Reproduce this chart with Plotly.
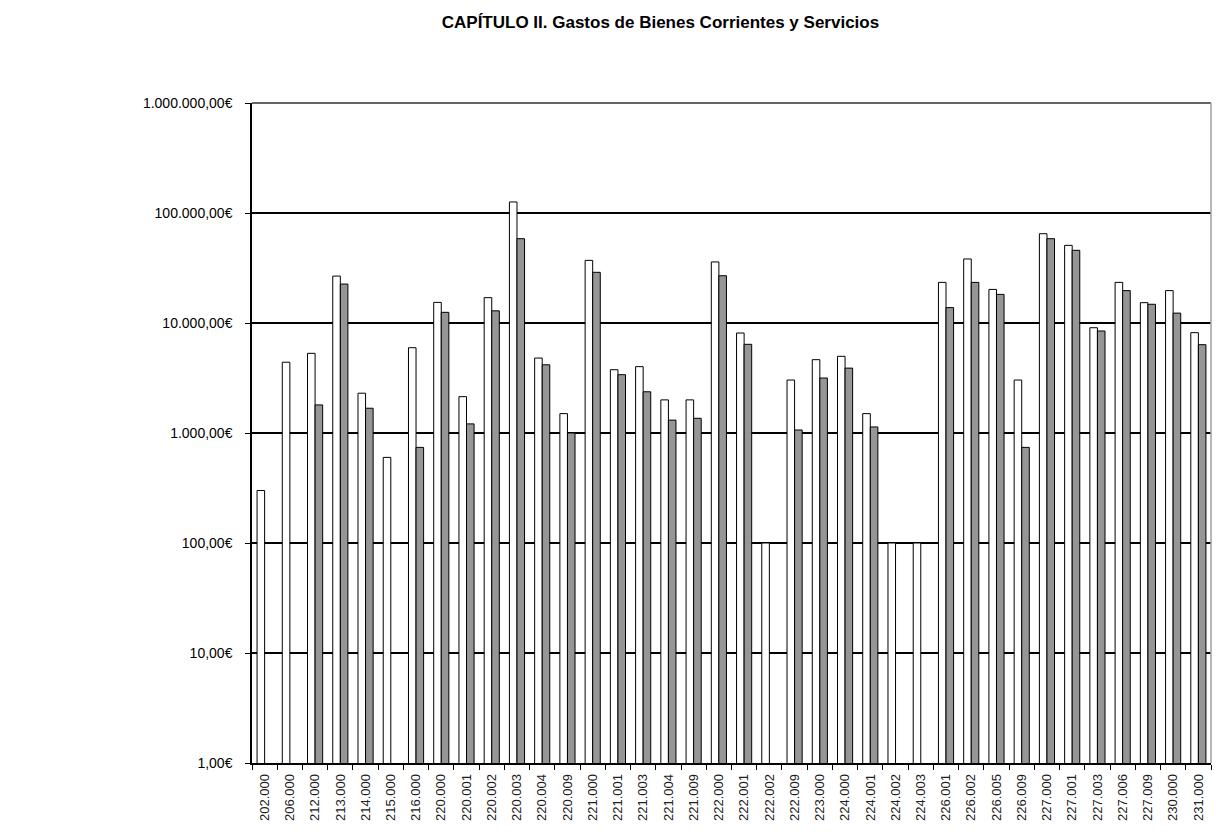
import plotly.graph_objects as go

# ── Data ──────────────────────────────────────────────────────────────────────
partidas = [
    "202.000", "206.000", "212.000", "213.000", "214.000", "215.000", "216.000",
    "220.000", "220.001", "220.002", "220.003", "220.004", "220.009",
    "221.000", "221.001", "221.003", "221.004", "221.009",
    "222.000", "222.001", "222.002", "222.009", "223.000",
    "224.000", "224.001", "224.002", "224.003",
    "226.001", "226.002", "226.005", "226.009",
    "227.000", "227.001", "227.003", "227.006", "227.009",
    "230.000", "231.000",
]

serie_blanca = [
    300, 4400, 5300, 26700, 2300, 600, 5960,
    15400, 2140, 17000, 126000, 4800, 1500,
    37100, 3760, 4010, 2000, 2000,
    35900, 8110, 100, 3030, 4640,
    4980, 1500, 100, 100,
    23400, 38200, 20200, 3030,
    64800, 50800, 9060, 23400, 15300,
    19700, 8170,
]

serie_gris = [
    None, None, 1800, 22600, 1680, None, 740,
    12500, 1210, 12900, 58400, 4170, 1000,
    28900, 3390, 2370, 1310, 1360,
    26900, 6400, None, 1065, 3160,
    3890, 1135, None, None,
    13800, 23400, 18200, 740,
    58400, 45800, 8460, 19700, 14800,
    12300, 6350,
]

y_ticks = [1, 10, 100, 1000, 10000, 100000, 1000000]
y_labels = ["1,00€", "10,00€", "100,00€", "1.000,00€", "10.000,00€",
            "100.000,00€", "1.000.000,00€"]

# ── Figure ────────────────────────────────────────────────────────────────────
FONT = "Liberation Sans, Arial, sans-serif"

fig = go.Figure()
fig.add_trace(go.Bar(
    x=partidas, y=serie_blanca, name="A",
    marker=dict(color="#FFFFFF", line=dict(color="#000000", width=1)),
))
fig.add_trace(go.Bar(
    x=partidas, y=serie_gris, name="B",
    marker=dict(color="#969696", line=dict(color="#000000", width=1)),
))

fig.update_layout(
    width=1215, height=824,
    paper_bgcolor="#FFFFFF", plot_bgcolor="#FFFFFF",
    font=dict(family=FONT, size=13, color="#000000"),
    title=dict(text="<b>CAPÍTULO II. Gastos de Bienes Corrientes y Servicios</b>",
               x=0.537, xanchor="center", y=1 - 14 / 824, yanchor="middle",
               font=dict(family=FONT, size=17, color="#000000")),
    margin=dict(l=244, r=12, t=95, b=69),
    barmode="group", bargap=0.4, bargroupgap=0,
    showlegend=False,
)

fig.update_xaxes(
    type="category", tickangle=-90, tickson="boundaries",
    ticks="outside", ticklen=5, tickcolor="#000000",
    ticklabelstandoff=4,
    showline=True, linecolor="#000000", linewidth=1.5,
    showgrid=False, tickfont=dict(size=13, color="#202020"),
)
fig.update_yaxes(
    type="log", range=[0, 6],
    tickvals=y_ticks, ticktext=y_labels,
    ticks="outside", ticklen=5, tickcolor="#000000",
    ticklabelstandoff=10,
    showline=True, linecolor="#000000", linewidth=1.5,
    showgrid=True, gridcolor="#000000", gridwidth=1.5,
    zeroline=False, tickfont=dict(size=14),
)

# top gridline at 1.000.000 and light border on the right of the plot area
fig.add_shape(type="line", xref="paper", yref="paper", x0=0, x1=1, y0=1, y1=1,
              line=dict(color="#303030", width=1.5))
fig.add_shape(type="line", xref="paper", yref="paper", x0=1, x1=1, y0=0, y1=1,
              line=dict(color="#A0A0A0", width=1.5))

fig.write_html("out.html")
